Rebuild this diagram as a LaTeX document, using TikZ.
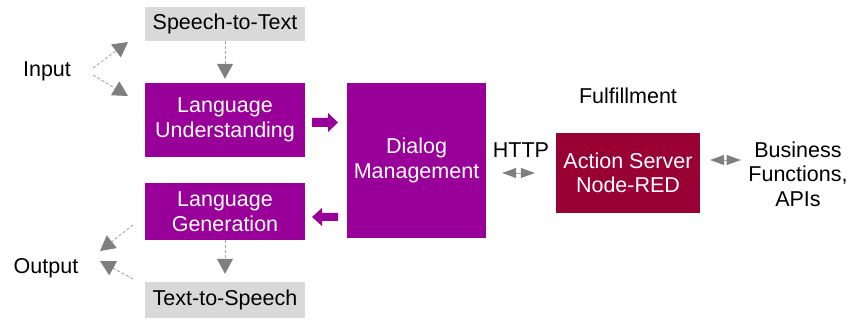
\documentclass[tikz,border=0pt]{standalone}
\usepackage{fontspec}
\setmainfont{Liberation Sans}
\usetikzlibrary{arrows.meta}
\definecolor{dmpurple}{HTML}{990099}
\definecolor{asred}{HTML}{990033}
\definecolor{boxgray}{HTML}{D9D9D9}
\definecolor{arrgray}{HTML}{7F7F7F}
\definecolor{linegray}{HTML}{A6A6A6}
\begin{document}
\begin{tikzpicture}[x=1pt,y=-1pt,
  every node/.style={font=\fontsize{21.5}{24.5}\selectfont, align=center, inner sep=0pt},
  graybox/.style={fill=boxgray, text=black, minimum width=160pt},
  purplebox/.style={fill=dmpurple, text=white},
  redbox/.style={fill=asred, text=white},
  plain/.style={text=black},
  dasharrow/.style={draw=linegray, line width=0.9pt, dash pattern=on 3pt off 2pt,
    -{Triangle[length=15pt,width=16pt,fill=arrgray,color=arrgray]}},
  dblarrow/.style={draw=linegray, line width=0.6pt,
    {Triangle[length=14pt,width=10pt,color=arrgray]}-{Triangle[length=14pt,width=10pt,color=arrgray]}},
  blockarrow/.style={fill=dmpurple, draw=none}
]
\useasboundingbox (0,0) rectangle (849,320);

% boxes
\node[graybox, minimum height=34pt] (stt) at (225,24) {Speech-to-Text};
\node[purplebox, minimum width=160pt, minimum height=74pt] (lu) at (225,120) {Language\\Understanding};
\node[purplebox, minimum width=160pt, minimum height=57pt] (lg) at (225,211.5) {Language\\Generation};
\node[graybox, minimum height=36pt] (tts) at (225,300) {Text-to-Speech};
\node[purplebox, minimum width=139pt, minimum height=155pt] (dm) at (416.5,160.5) {Dialog\\Management};
\node[redbox, minimum width=144pt, minimum height=80pt] (as) at (628,173) {Action Server\\Node-RED};

% labels
\node[plain] (input) at (47,71) {Input};
\node[plain] (output) at (46,268) {Output};
\node[plain] (ful) at (628,96) {Fulfillment};
\node[plain] (http) at (521,150) {HTTP};
\node[plain] (biz) at (798,174) {Business\\Functions,\\APIs};

% input / output arrows
\coordinate (inA) at (93,68);
\coordinate (inB) at (93,75);
\coordinate (inT1) at (128,42);
\coordinate (inT2) at (128,96);
\draw[dasharrow] (inA) -- (inT1);
\draw[dasharrow] (inB) -- (inT2);

\coordinate (outA) at (133,225);
\coordinate (outB) at (133,279);
\coordinate (outT1) at (100,251);
\coordinate (outT2) at (100,261);
\draw[dasharrow] (outA) -- (outT1);
\draw[dasharrow] (outB) -- (outT2);

% vertical arrows
\draw[dasharrow, shorten >=4pt] (stt.south) -- (lu.north);
\draw[dasharrow, shorten >=8pt] (lg.south) -- (tts.north);

% block arrows
\coordinate (ra) at (312,122.5);
\fill[blockarrow] (ra) ++(0,-4.5) -- ++(16,0) -- ++(0,-5) -- ++(10,9.5) -- ++(-10,9.5) -- ++(0,-5) -- ++(-16,0) -- cycle;
\coordinate (la) at (338,217);
\fill[blockarrow] (la) ++(0,-4) -- ++(-16,0) -- ++(0,-5) -- ++(-10,9) -- ++(10,9) -- ++(0,-5) -- ++(16,0) -- cycle;

% double arrows
\draw[dblarrow, shorten <=16pt, shorten >=21pt] (dm.east |- as.west) -- (as.west);
\draw[dblarrow, shorten <=10pt, shorten >=7.5pt] ([yshift=13pt]as.east) -- ([yshift=14pt]biz.west);
\end{tikzpicture}
\end{document}
